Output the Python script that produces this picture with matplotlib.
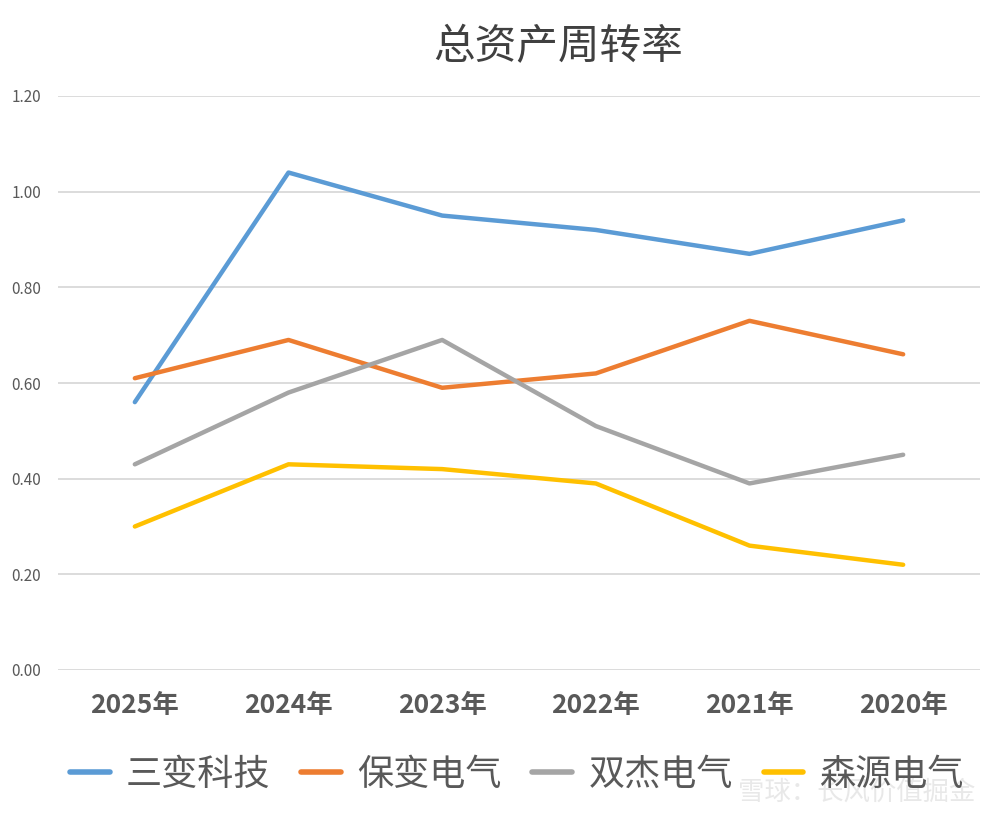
import matplotlib
matplotlib.use("Agg")
import matplotlib.pyplot as plt

plt.rcParams['font.family'] = ['Noto Sans CJK SC', 'DejaVu Sans']

categories = ["2025年", "2024年", "2023年", "2022年", "2021年", "2020年"]
series_names = ["三变科技", "保变电气", "双杰电气", "森源电气"]
sanbian = [0.56, 1.04, 0.95, 0.92, 0.87, 0.94]
baobian = [0.61, 0.69, 0.59, 0.62, 0.73, 0.66]
shuangjie = [0.43, 0.58, 0.69, 0.51, 0.39, 0.45]
senyuan = [0.30, 0.43, 0.42, 0.39, 0.26, 0.22]
colors = ["#5B9BD5", "#ED7D31", "#A5A5A5", "#FFC000"]
yticks = [0.0, 0.2, 0.4, 0.6, 0.8, 1.0, 1.2]

fig = plt.figure(figsize=(10.07, 8.19), dpi=100)
ax = fig.add_axes([58/1007, 1 - 670/819, 922/1007, (670-96)/819])

x = list(range(len(categories)))
for name, vals, c in zip(series_names, [sanbian, baobian, shuangjie, senyuan], colors):
    ax.plot(x, vals, color=c, lw=3.2, label=name, solid_capstyle='round')

ax.set_xlim(-0.5, len(categories) - 0.5)
ax.set_ylim(0, 1.2)
ax.set_yticks(yticks)
ax.set_yticklabels([f"{v:.2f}" for v in yticks], fontsize=11, color="#595959")
ax.set_xticks(x)
ax.set_xticklabels(categories, fontsize=19, fontweight='bold', color="#595959")
ax.tick_params(axis='both', length=0)
ax.tick_params(axis='y', pad=12)
ax.tick_params(axis='x', pad=16)
ax.grid(axis='y', color="#D9D9D9", lw=1.3)
ax.set_axisbelow(True)
for s in ax.spines.values():
    s.set_visible(False)

fig.text(558/1007, 1 - 48/819, "总资产周转率", ha='center', va='center',
         fontsize=30, color="#404040")

leg = fig.legend(loc='center', bbox_to_anchor=(517/1007, 1 - 775/819), ncol=4,
                 frameon=False, fontsize=26, handlelength=1.1, handletextpad=0.45,
                 columnspacing=0.85)
for t in leg.get_texts():
    t.set_color("#595959")
for h in leg.legend_handles:
    h.set_linewidth(4.0)

fig.text(975/1007, 1 - 792/819, "雪球：长风价值掘金", ha='right', va='center',
         fontsize=19, color="#E6E6E6", alpha=0.9, zorder=5)

fig.savefig("out.png", dpi=100, facecolor='white')
